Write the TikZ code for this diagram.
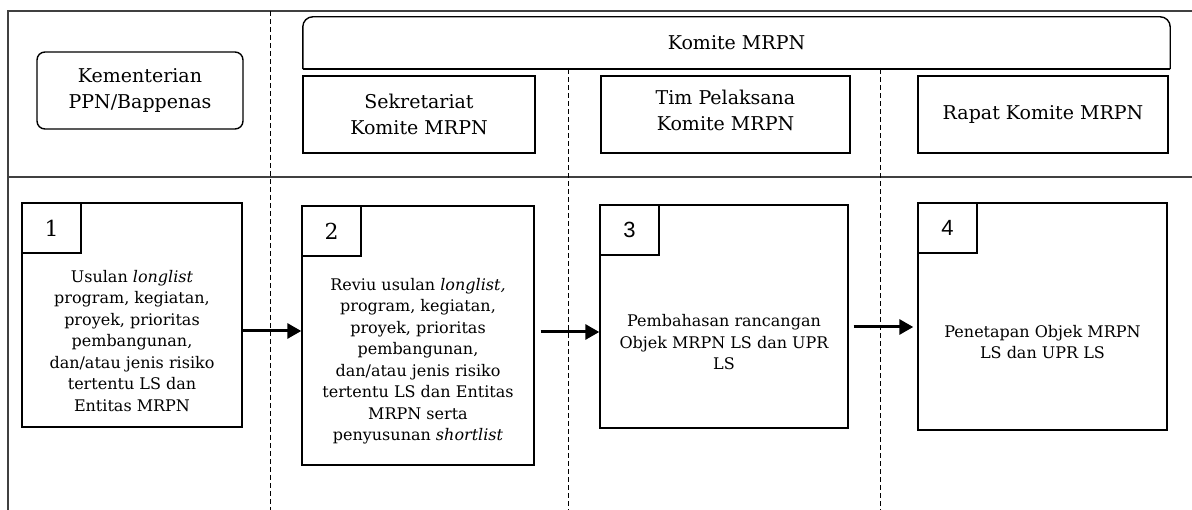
\documentclass[tikz,border=0pt]{standalone}
\usepackage{fontspec}
\setmainfont{DejaVu Serif}
\newfontfamily\numsans{Liberation Sans}
\usetikzlibrary{arrows.meta,calc}
\tikzset{
  frame/.style={line width=1.6pt, draw=black!75},
  lane/.style={line width=1pt, dash pattern=on 5pt off 3pt},
  hbox/.style={draw, line width=1.4pt, inner sep=0pt, align=center,
    font=\fontsize{19}{25.5}\selectfont},
  stepbox/.style={draw, line width=1.4pt, inner sep=0pt},
  numbox/.style={draw, line width=1.4pt, inner sep=0pt, anchor=north west,
    minimum width=59pt, minimum height=50pt, font=\fontsize{22}{24}\selectfont},
  steptext/.style={align=center, inner sep=0pt, font=\fontsize{16}{21.5}\selectfont},
  arr/.style={line width=3pt, -{Triangle[length=14pt,width=15pt]}}
}
\begin{document}
\begin{tikzpicture}[x=1pt,y=-1pt]
\useasboundingbox (0,0) rectangle (1192,510);
% frame
\coordinate (ftl) at (8,11);
\coordinate (ftr) at (1192,11);
\coordinate (fbl) at (8,510);
\coordinate (fml) at (8,177);
\coordinate (fmr) at (1192,177);
\draw[frame] (ftr) -- (ftl) -- (fbl);
\draw[frame] (fml) -- (fmr);
% header boxes
\node[hbox, rounded corners=8pt, minimum width=206pt, minimum height=77pt] (kem) at (140,90.5) {Kementerian\\PPN/Bappenas};
\node[inner sep=0pt, minimum width=867pt, minimum height=52pt, font=\fontsize{19}{25.5}\selectfont] (kom) at (736.5,43) {Komite MRPN};
\draw[line width=1.4pt, rounded corners=10pt] (kom.south west) -- (kom.north west) -- (kom.north east) -- (kom.south east);
\draw[line width=1.4pt] (kom.south west) -- (kom.south east);
\node[hbox, minimum width=232pt, minimum height=77pt] (sek) at (419,114.5) {Sekretariat\\Komite MRPN};
\node[hbox, minimum width=249pt, minimum height=77pt] (tim) at (725.5,114.5) {};
\node[align=center, inner sep=0pt, font=\fontsize{19}{25.5}\selectfont] (timt) at ($(tim.center)+(0,-4)$) {Tim Pelaksana\\Komite MRPN};
\node[hbox, minimum width=250pt, minimum height=77pt] (rap) at (1043,114.5) {Rapat Komite MRPN};
% lanes
\coordinate (l1t) at (270,11);
\coordinate (l1b) at (270,510);
\coordinate (l2b) at (568,510);
\coordinate (l3b) at (880,510);
\draw[lane] (l1t) -- (l1b);
\draw[lane] (kom.south west -| l2b) -- (l2b);
\draw[lane] (kom.south west -| l3b) -- (l3b);
% step boxes
\node[stepbox, minimum width=220pt, minimum height=224pt] (b1) at (132,315) {};
\node[stepbox, minimum width=232pt, minimum height=259pt] (b2) at (418,335.5) {};
\node[stepbox, minimum width=248pt, minimum height=223pt] (b3) at (724,316.5) {};
\node[stepbox, minimum width=249pt, minimum height=227pt] (b4) at (1042.5,316.5) {};
\node[numbox] (n1) at (b1.north west) {1};
\node[numbox] (n2) at (b2.north west) {2};
\node[numbox, font=\numsans\fontsize{22}{24}\selectfont] (n3) at (b3.north west) {3};
\node[numbox, font=\numsans\fontsize{22}{24}\selectfont] (n4) at (b4.north west) {4};
\node[steptext] (t1) at ($(b1.south)!0.5!(b1.south |- n1.south)$) {Usulan \textit{longlist}\\program, kegiatan,\\proyek, prioritas\\pembangunan,\\dan/atau jenis risiko\\tertentu LS dan\\Entitas MRPN};
\node[steptext] (t2) at ($(b2.south)!0.5!(b2.south |- n2.south)$) {Reviu usulan \textit{longlist,}\\program, kegiatan,\\proyek, prioritas\\pembangunan,\\dan/atau jenis risiko\\tertentu LS dan Entitas\\MRPN serta\\penyusunan \textit{shortlist}};
\node[steptext] (t3) at ($(b3.south)!0.5!(b3.south |- n3.south)$) {Pembahasan rancangan\\Objek MRPN LS dan UPR\\LS};
\node[steptext] (t4) at ($(b4.south)!0.5!(b4.south |- n4.south)$) {Penetapan Objek MRPN\\LS dan UPR LS};
% arrows
\coordinate (ya) at (0,331);
\coordinate (yb) at (0,332);
\coordinate (yc) at (0,327);
\draw[arr] (b1.east |- ya) -- (b2.west |- ya);
\draw[arr] ([xshift=6pt]b2.east |- yb) -- (b3.west |- yb);
\draw[arr] ([xshift=5pt]b3.east |- yc) -- ([xshift=-4pt]b4.west |- yc);
\end{tikzpicture}
\end{document}
